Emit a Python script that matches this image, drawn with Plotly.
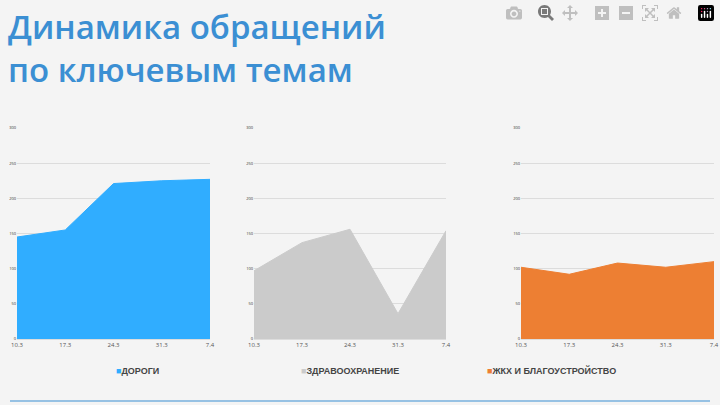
import plotly.graph_objects as go

dates = ["10.3", "17.3", "24.3", "31.3", "7.4"]
roads = [145, 155, 221, 225, 227]
health = [97, 137, 156, 36, 154]
housing = [102, 92, 108, 102, 110]

names = ["ДОРОГИ", "ЗДРАВООХРАНЕНИЕ", "ЖКХ И БЛАГОУСТРОЙСТВО"]
colors = ["#30adff", "#cbcbcb", "#ed7f33"]
series = [roads, health, housing]
domains = [(17, 210), (254, 446), (521, 714)]

W, H = 720, 405
fig = go.Figure()
for i, (vals, col, nm, (x0, x1)) in enumerate(zip(series, colors, names, domains)):
    n = "" if i == 0 else str(i + 1)
    fig.add_trace(go.Scatter(x=dates, y=vals, fill="tozeroy", mode="lines",
                             line=dict(color=col, width=1), fillcolor=col,
                             xaxis="x" + n, yaxis="y" + n, showlegend=False))
    fig.layout["xaxis" + n] = dict(domain=[x0 / W, x1 / W], anchor="y" + n,
                                   showgrid=False, showline=True, linecolor="#dddddd",
                                   range=[0, 4], tickfont=dict(size=6, color="#555"),
                                   ticks="", type="category", zeroline=False,
                                   automargin=False)
    fig.layout["yaxis" + n] = dict(domain=[1 - 339 / H, 1 - 128 / H], anchor="x" + n,
                                   range=[0, 300], dtick=50, gridcolor="#dcdcdc",
                                   tickfont=dict(size=4, color="#333"), zeroline=False,
                                   showline=False, automargin=False)
    cx = (x0 + x1) / 2 / W
    fig.add_annotation(x=cx, y=1 - 378 / H, xref="paper", yref="paper", showarrow=False,
                       text=f"<span style='color:{col}'>■</span>{nm}",
                       font=dict(size=9, color="#444", family="Liberation Sans", weight=700))

fig.add_annotation(x=6 / W, y=1 - 2 / H, xref="paper", yref="paper", showarrow=False,
                   xanchor="left", yanchor="top", align="left",
                   text="Динамика обращений<br>по ключевым темам",
                   font=dict(size=33, color="#3b8fd3", family="Open Sans", weight=600))
fig.add_shape(type="line", xref="paper", yref="paper", x0=10 / W, x1=710 / W,
              y0=1 - 401 / H, y1=1 - 401 / H, line=dict(color="#3b8fd3", width=1))

fig.update_layout(width=W, height=H, margin=dict(l=0, r=0, t=0, b=0),
                  paper_bgcolor="#f4f4f4", plot_bgcolor="rgba(0,0,0,0)")
fig.write_html("out.html", post_script="document.body.style.margin='0';")
